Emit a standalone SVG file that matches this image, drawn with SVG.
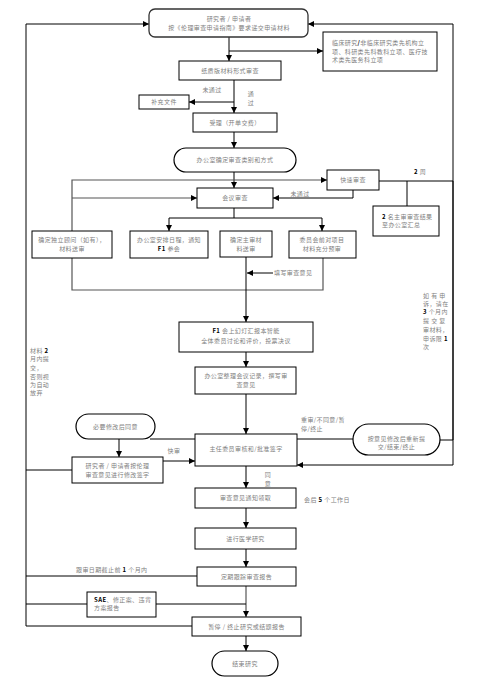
<svg xmlns="http://www.w3.org/2000/svg" width="494" height="681" viewBox="0 0 494 681">
<defs>
<marker id="ah" markerUnits="userSpaceOnUse" markerWidth="7" markerHeight="7" refX="6" refY="3" orient="auto">
<path d="M0,0 L6,3 L0,6 z" fill="#000"/>
</marker>
<style>
.bx{fill:#fff;stroke:#000;stroke-width:1}
.t{font-family:"Noto Sans CJK SC","Liberation Sans",sans-serif;font-size:6px;fill:#808080;letter-spacing:0.4px}
.m{text-anchor:middle}
.b{fill:#000;font-weight:bold}
.c{fill:none;stroke:#000;stroke-width:1}
.g{fill:none;stroke:#555;stroke-width:1.2}
.a{marker-end:url(#ah)}
</style>
</defs>
<rect width="494" height="681" fill="#fff"/>
<g id="connectors">
<path class="c a" d="M26,626 V24 H149"/>
<path class="c" d="M26,470 H72 M26,576 H197 M26,604 H87 M26,626 H192"/>
<path class="c a" d="M440,440 H453 V24 H308"/>
<path class="c a" d="M453,440 V465 H297"/>
<path class="c" d="M379,181 H453" stroke-width="1.5"/>
<path class="c" d="M453,181 V440" stroke-width="2"/>
<path class="c a" d="M229,37 V61"/>
<path class="c a" d="M229,51 H323"/>
<path class="c a" d="M234,80 V113"/>
<path class="c a" d="M234,102 H189"/>
<path class="c a" d="M234,132 V148"/>
<path class="c a" d="M234,172 V188"/>
<path class="g a" d="M72,231 V180 H327"/>
<path class="g a" d="M72,198 H197"/>
<path class="c a" d="M353,190 V198 H273"/>
<path class="c" d="M407,181 V206"/>
<path class="c a" d="M234,208 V218 H169 V231"/>
<path class="c a" d="M234,218 H322 V231"/>
<path class="g" d="M72,258 V290 H323 V258"/>
<path class="c a" d="M246,257 V322"/>
<path class="c a" d="M273,273 H247"/>
<path class="c a" d="M246,352 V367"/>
<path class="c a" d="M246,394 V434"/>
<path class="c" d="M150,439 H195"/>
<path class="c a" d="M119,439 V457"/>
<path class="c a" d="M163,461 H195"/>
<path class="c" d="M297,439 H353"/>
<path class="c a" d="M246,466 V488"/>
<path class="c a" d="M246,508 V528"/>
<path class="c a" d="M246,549 V567"/>
<path class="g a" d="M246,586 V617"/>
<path class="c" d="M156,604 H246"/>
<path class="c a" d="M246,636 V651"/>
</g>
<g id="n-top"><rect x="149" y="9" width="159" height="28" rx="6" fill="#fff" stroke="#333" stroke-width="1.3"/>
<text class="t m" x="229" y="21">研究者 / 申请者</text><text class="t m" x="229" y="30">按《伦理审查申请指南》要求递交申请材料</text></g>
<g id="n-category"><rect class="bx" x="323" y="32" width="114" height="39"/>
<text class="t" x="332" y="45">临床研究<tspan class="b">/</tspan>非临床研究类先机构立</text><text class="t" x="332" y="53.5">项、科研类先科教科立项、医疗技</text><text class="t" x="332" y="62">术类先医务科立项</text></g>
<g id="n-paper"><rect class="bx" x="179" y="61" width="102" height="19"/><text class="t m" x="230" y="72.5">纸质版材料形式审查</text></g>
<g id="n-supp"><rect class="bx" x="139" y="95" width="50" height="14"/><text class="t m" x="164" y="104">补充文件</text></g>
<g id="n-accept"><rect class="bx" x="193" y="113" width="84" height="19"/><text class="t m" x="235" y="124.5">受理（开单交费）</text></g>
<g id="n-decide"><rect x="174" y="148" width="122" height="24" rx="12" fill="#fff" stroke="#000" stroke-width="1.2"/><text class="t m" x="235" y="162">办公室确定审查类别和方式</text></g>
<g id="n-fast"><rect class="bx" x="327" y="170" width="52" height="20"/><text class="t m" x="353" y="182">快速审查</text></g>
<g id="n-meeting"><rect class="bx" x="197" y="188" width="76" height="20"/><text class="t m" x="235" y="200">会议审查</text></g>
<g id="n-2review"><rect class="bx" x="373" y="206" width="66" height="30"/><text class="t" x="382" y="219"><tspan class="b">2</tspan> 名主审审查结果</text><text class="t" x="382" y="227">至办公室汇总</text></g>
<g id="n-advisor"><rect class="bx" x="32" y="231" width="80" height="27"/><text class="t m" x="72" y="242">确定独立顾问（如有），</text><text class="t m" x="72" y="251">材料送审</text></g>
<g id="n-schedule"><rect class="bx" x="130" y="231" width="78" height="27"/><text class="t m" x="169" y="242">办公室安排日程，通知</text><text class="t m" x="169" y="251"><tspan class="b">F1</tspan> 参会</text></g>
<g id="n-primary"><rect class="bx" x="220" y="231" width="52" height="26"/><text class="t m" x="246" y="242">确定主审材</text><text class="t m" x="246" y="251">料送审</text></g>
<g id="n-preview"><rect class="bx" x="289" y="231" width="67" height="27"/><text class="t m" x="322" y="242">委员会前对项目</text><text class="t m" x="322" y="251">材料充分预审</text></g>
<g id="n-f1"><rect class="bx" x="179" y="322" width="134" height="30"/><text class="t m" x="246" y="333"><tspan class="b">F1</tspan> 会上幻灯汇报本智能</text><text class="t m" x="246" y="343">全体委员讨论和评价，投票决议</text></g>
<g id="n-minutes"><rect class="bx" x="195" y="367" width="101" height="27"/><text class="t m" x="246" y="378">办公室整理会议记录，撰写审</text><text class="t m" x="246" y="387">查意见</text></g>
<g id="n-director"><rect class="bx" x="195" y="434" width="102" height="32"/><text class="t m" x="246" y="451">主任委员审核和/批准签字</text></g>
<g id="n-necessary"><rect x="76" y="414" width="79" height="25" rx="12.5" fill="#fff" stroke="#000" stroke-width="1.2"/><text class="t m" x="115.5" y="429">必要修改后同意</text></g>
<g id="n-revise"><rect class="bx" x="72" y="457" width="91" height="26"/><text class="t m" x="117.5" y="468">研究者 / 申请者按伦理</text><text class="t m" x="117.5" y="477">审查意见进行修改签字</text></g>
<g id="n-resubmit"><rect x="353" y="424" width="87" height="31" rx="15.5" fill="#fff" stroke="#000" stroke-width="1.2"/><text class="t m" x="396.5" y="441">按意见修改后重新提</text><text class="t m" x="396.5" y="449">交/结束/终止</text></g>
<g id="n-notice"><rect class="bx" x="195" y="488" width="101" height="20"/><text class="t m" x="245.5" y="500">审查意见通知领取</text></g>
<g id="n-research"><rect class="bx" x="195" y="528" width="101" height="21"/><text class="t m" x="245.5" y="540.5">进行医学研究</text></g>
<g id="n-follow"><rect class="bx" x="197" y="567" width="99" height="19"/><text class="t m" x="246.5" y="578.5">定期跟踪审查报告</text></g>
<g id="n-sae"><rect class="bx" x="87" y="592" width="69" height="25"/><text class="t" x="94" y="602"><tspan class="b">SAE</tspan>、修正案、违背</text><text class="t" x="94" y="610">方案报告</text></g>
<g id="n-suspend"><rect class="bx" x="192" y="617" width="109" height="19"/><text class="t m" x="246.5" y="628.5">暂停 / 终止研究或结题报告</text></g>
<g id="n-end"><rect x="212" y="651" width="66" height="25" rx="12.5" fill="#fff" stroke="#000" stroke-width="1.2"/><text class="t m" x="245" y="665.5">结束研究</text></g>
<g id="labels">
<text class="t m" x="212" y="92">未通过</text>
<text class="t m" x="251" y="96">通</text><text class="t m" x="251" y="105">过</text>
<text class="t m" x="300" y="196">未通过</text>
<text class="t" x="414" y="174"><tspan class="b">2</tspan> 周</text>
<text class="t" x="274" y="275">填写审查意见</text>
<text class="t" x="423" y="298">如 有 申</text>
<text class="t" x="423" y="306">诉，请在</text>
<text class="t" x="423" y="314"><tspan class="b">3</tspan> 个月内</text>
<text class="t" x="423" y="323">提 交 复</text>
<text class="t" x="423" y="332">审材料，</text>
<text class="t" x="423" y="341">申诉限 <tspan class="b">1</tspan></text>
<text class="t" x="423" y="349">次</text>
<text class="t" x="30" y="353">材料 <tspan class="b">2</tspan></text>
<text class="t" x="30" y="361">月内提</text>
<text class="t" x="30" y="370">交，</text>
<text class="t" x="30" y="379">否则视</text>
<text class="t" x="30" y="387">为自动</text>
<text class="t" x="30" y="395">放弃</text>
<text class="t" x="301" y="422">重审/不同意/暂</text>
<text class="t" x="301" y="431">停/终止</text>
<text class="t m" x="174" y="453">快审</text>
<text class="t m" x="268" y="477">同</text><text class="t m" x="268" y="486">意</text>
<text class="t" x="304" y="502">会后 <tspan class="b">5</tspan> 个工作日</text>
<text class="t" x="76" y="572">跟审日期截止前 <tspan class="b">1</tspan> 个月内</text>
</g>
</svg>
